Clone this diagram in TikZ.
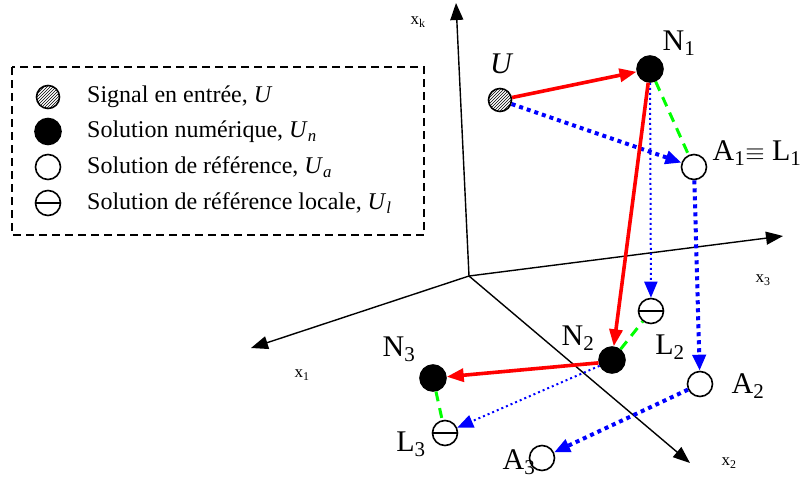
\documentclass[tikz,border=0pt]{standalone}
\usepackage{fontspec}
\setmainfont{Liberation Serif}
\usetikzlibrary{arrows.meta,patterns}
\begin{document}
\begin{tikzpicture}[x=1pt,y=-1pt,
 axis/.style={line width=1.4pt,-{Triangle[length=17pt,width=13pt]}},
 pt/.style={circle,draw,line width=1.6pt,inner sep=0pt,minimum size=25pt},
 num/.style={pt,fill=black},
 ref/.style={pt,fill=white},
 loc/.style={pt,fill=white,path picture={\draw[line width=1.6pt] (path picture bounding box.west) -- (path picture bounding box.east);}},
 inp/.style={pt,minimum size=23pt,pattern=north east lines},
 redarr/.style={red,line width=3.6pt,-{Triangle[length=17pt,width=13pt]}},
 bluethick/.style={blue,line width=4pt,dash pattern=on 4pt off 4pt,-{Triangle[length=16pt,width=13pt]}},
 bluethin/.style={blue,line width=2pt,dash pattern=on 2pt off 3pt,-{Triangle[length=16pt,width=13pt]}},
 greendash/.style={green,line width=3pt,dash pattern=on 10pt off 7pt},
 lbl/.style={font=\fontsize{30}{33}\selectfont,inner sep=0pt},
 axl/.style={font=\fontsize{17}{19}\selectfont,inner sep=0pt},
 leg/.style={font=\fontsize{24}{27}\selectfont,anchor=west,inner sep=0pt}]
\useasboundingbox (0,0) rectangle (810,482);
% legend
\draw[line width=1.4pt,dash pattern=on 8pt off 5pt] (12,67) rectangle (424,235);
\node[inp] (li) at (48,97) {};
\node[num,minimum size=26pt] (ln) at (48,131.5) {};
\node[ref] (la) at (48,167) {};
\node[loc] (ll) at (48,203) {};
\node[leg] (ti) at (87,97) {Signal en entrée, \textit{U}};
\node[leg] (tn) at (87,131.5) {Solution numérique, \textit{U}\textsubscript{\textit{n}}};
\node[leg] (ta) at (87,167) {Solution de référence, \textit{U}\textsubscript{\textit{a}}};
\node[leg] (tl) at (87,203) {Solution de référence locale, \textit{U}\textsubscript{\textit{l}}};
% axes
\coordinate (O) at (469,276);
\coordinate (xk) at (456,3);
\coordinate (x1) at (251,348);
\coordinate (x3) at (783,236);
\coordinate (x2) at (690,463);
\draw[axis] (O) -- (xk);
\draw[axis] (O) -- (x1);
\draw[axis] (O) -- (x3);
\draw[axis] (O) -- (x2);
\node[axl] (lxk) at (418,22) {x\textsubscript{k}};
\node[axl] (lx1) at (302,375) {x\textsubscript{1}};
\node[axl] (lx3) at (763,280) {x\textsubscript{3}};
\node[axl] (lx2) at (729,463) {x\textsubscript{2}};
% points
\node[inp] (U) at (500,100) {};
\node[num,minimum size=26pt] (N1) at (650,69) {};
\node[ref] (A1) at (694,167) {};
\node[loc] (L2) at (651,311) {};
\node[num,minimum size=26pt] (N2) at (612,360) {};
\node[ref] (A2) at (700,384) {};
\node[num,minimum size=26pt] (N3) at (433,378) {};
\node[loc] (L3) at (445,433) {};
\node[ref] (A3) at (542,458) {};
% labels
\node[lbl,font=\fontsize{30}{33}\selectfont\itshape] (tU) at (501,64) {U};
\node[lbl] (tN1) at (679,43) {N\textsubscript{1}};
\node[lbl] (tA1) at (757,153) {A\textsubscript{1}$\equiv$ L\textsubscript{1}};
\node[lbl] (tN2) at (578,338) {N\textsubscript{2}};
\node[lbl] (tL2) at (670,347) {L\textsubscript{2}};
\node[lbl] (tA2) at (748,386) {A\textsubscript{2}};
\node[lbl] (tN3) at (399,349) {N\textsubscript{3}};
\node[lbl] (tL3) at (411,444) {L\textsubscript{3}};
\node[lbl] (tA3) at (519,462) {A\textsubscript{3}};
% connectors
\draw[greendash] (N1) -- (A1);
\draw[greendash] (N2) -- (L2);
\draw[greendash] (N3) -- (L3);
\draw[bluethin] (N1) -- (L2);
\draw[bluethin] (N2.205) -- (L3);
\draw[bluethick] (U) -- (A1);
\draw[bluethick] (A1) -- (A2);
\draw[bluethick] (A2) -- (A3);
\draw[redarr] (U) -- (N1);
\draw[redarr] (N1) -- (N2);
\draw[redarr] (N2.192) -- (N3);
\end{tikzpicture}
\end{document}
